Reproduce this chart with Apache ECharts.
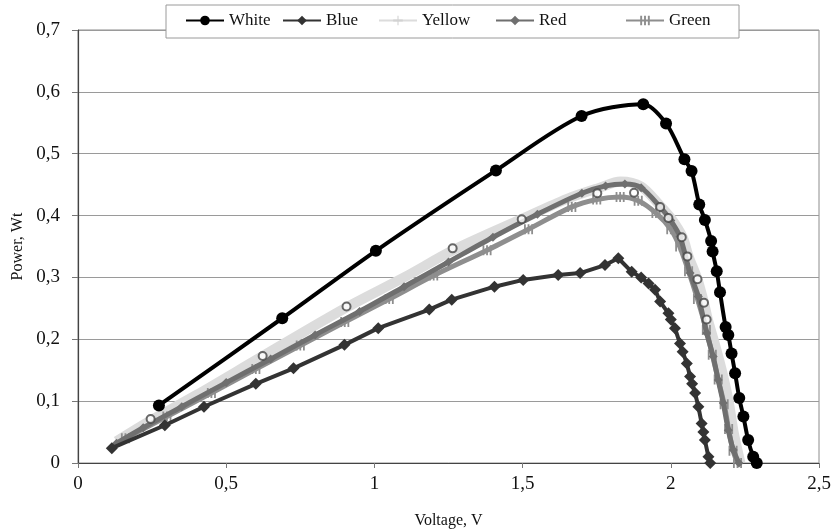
<!DOCTYPE html>
<html lang="en">
  <head>
    <meta charset="UTF-8" />
    <title>Power vs Voltage</title>
    <script src="https://cdn.jsdelivr.net/npm/echarts@6/dist/echarts.min.js"></script>
    <style>
      body { margin: 0; background: #fff; }
      #main { width: 834px; height: 529px; }
    </style>
  </head>
  <body>
    <div id="main"></div>
    <script>
      // series names (legend order)
      const names = ["White", "Blue", "Yellow", "Red", "Green"];

      // [voltage, power]
      const white = [
        [0.273, 0.093], [0.689, 0.234], [1.005, 0.343], [1.41, 0.473], [1.699, 0.561],
        [1.907, 0.58], [1.984, 0.549], [2.046, 0.491], [2.07, 0.472], [2.096, 0.418],
        [2.115, 0.393], [2.136, 0.359], [2.141, 0.342], [2.155, 0.31], [2.166, 0.276],
        [2.185, 0.22], [2.194, 0.207], [2.205, 0.177], [2.217, 0.145], [2.231, 0.105],
        [2.245, 0.075], [2.261, 0.037], [2.278, 0.01], [2.29, 0]
      ];
      const blue = [
        [0.114, 0.024], [0.293, 0.061], [0.425, 0.091], [0.6, 0.128], [0.727, 0.153],
        [0.899, 0.191], [1.013, 0.218], [1.185, 0.248], [1.261, 0.264], [1.405, 0.285],
        [1.502, 0.296], [1.62, 0.304], [1.694, 0.307], [1.778, 0.32], [1.823, 0.331],
        [1.868, 0.309], [1.9, 0.3], [1.925, 0.29], [1.947, 0.28], [1.964, 0.261],
        [1.992, 0.242], [2.0, 0.232], [2.014, 0.218], [2.031, 0.193], [2.04, 0.18],
        [2.054, 0.161], [2.065, 0.14], [2.072, 0.128], [2.082, 0.113], [2.093, 0.091],
        [2.104, 0.064], [2.11, 0.05], [2.115, 0.037], [2.127, 0.01], [2.133, 0]
      ];
      const yellow = [
        [0.13, 0.035], [0.25, 0.07], [0.4, 0.11], [0.62, 0.172], [0.9, 0.25],
        [1.1, 0.3], [1.27, 0.345], [1.5, 0.395], [1.65, 0.427], [1.76, 0.445],
        [1.83, 0.455], [1.9, 0.447], [1.96, 0.418], [2.0, 0.396], [2.04, 0.365],
        [2.06, 0.334], [2.09, 0.297], [2.112, 0.259], [2.125, 0.232], [2.15, 0.19],
        [2.172, 0.15], [2.195, 0.1], [2.212, 0.05], [2.235, 0]
      ];
      const red = [
        [0.13, 0.032], [0.22, 0.057], [0.35, 0.091], [0.5, 0.13], [0.65, 0.168],
        [0.8, 0.207], [0.95, 0.245], [1.1, 0.285], [1.25, 0.325], [1.4, 0.365],
        [1.55, 0.402], [1.7, 0.436], [1.78, 0.448], [1.845, 0.451], [1.9, 0.445],
        [1.964, 0.414], [2.0, 0.392], [2.031, 0.366], [2.065, 0.307], [2.093, 0.269],
        [2.121, 0.21], [2.143, 0.172], [2.16, 0.134], [2.177, 0.097], [2.194, 0.053],
        [2.211, 0.021], [2.23, 0]
      ];
      const green = [
        [0.16, 0.04], [0.3, 0.075], [0.45, 0.113], [0.6, 0.152], [0.75, 0.19],
        [0.9, 0.228], [1.05, 0.265], [1.2, 0.303], [1.38, 0.344], [1.52, 0.378],
        [1.666, 0.414], [1.75, 0.426], [1.829, 0.43], [1.89, 0.424], [1.95, 0.404],
        [2.0, 0.378], [2.03, 0.35], [2.06, 0.31], [2.09, 0.265], [2.12, 0.215],
        [2.14, 0.175], [2.16, 0.135], [2.18, 0.095], [2.195, 0.055], [2.21, 0.02],
        [2.225, 0]
      ];
      // open circles drawn along the yellow curve
      const yellowPts = [
        [0.245, 0.071], [0.623, 0.173], [0.906, 0.253], [1.264, 0.347], [1.497, 0.394],
        [1.752, 0.436], [1.876, 0.437], [1.964, 0.414], [1.992, 0.396], [2.037, 0.365],
        [2.056, 0.334], [2.09, 0.297], [2.112, 0.259], [2.121, 0.232]
      ];

      const xTicks = { min: 0, max: 2.5, step: 0.5 };
      const yTicks = { min: 0, max: 0.7, step: 0.1 };

      const serif = "Liberation Serif";
      const comma = v => String(+v.toFixed(2)).replace(".", ",");

      // legend item left positions (px)
      const legendLeft = [185, 282, 378, 495, 625];

      const chart = echarts.init(document.getElementById("main"));

      chart.setOption({
        backgroundColor: "#fff",
        animation: false,
        textStyle: { fontFamily: serif },
        grid: {
          left: 78, right: 15, top: 30, bottom: 66,
          outerBoundsMode: "none",
          show: true, borderColor: "#8c8c8c", borderWidth: 1
        },
        graphic: [{
          type: "rect", z: 50,
          shape: { x: 166, y: 5, width: 573, height: 33 },
          style: { fill: "#fff", stroke: "#9a9a9a", lineWidth: 1 }
        }],
        legend: names.map((n, i) => ({
          data: [n], left: legendLeft[i], top: 12, padding: 0, z: 60,
          itemWidth: 38, itemHeight: 12, itemGap: 5,
          textStyle: { fontFamily: serif, fontSize: 17, color: "#111" }
        })),
        xAxis: {
          type: "value", min: xTicks.min, max: xTicks.max, interval: xTicks.step,
          name: "Voltage, V", nameLocation: "middle", nameGap: 50,
          nameTextStyle: { fontFamily: serif, fontSize: 16, color: "#111" },
          axisLine: { lineStyle: { color: "#444", width: 1.2 } },
          axisTick: { show: true, length: 5, lineStyle: { color: "#777" } },
          axisLabel: { formatter: comma, fontFamily: serif, fontSize: 19, color: "#111", margin: 12 },
          splitLine: { show: false }
        },
        yAxis: {
          type: "value", min: yTicks.min, max: yTicks.max, interval: yTicks.step,
          name: "Power, Wt", nameLocation: "middle", nameGap: 40, nameRotate: 90,
          nameTextStyle: { fontFamily: serif, fontSize: 16, color: "#111" },
          axisLine: { show: true, lineStyle: { color: "#444", width: 1.2 } },
          axisTick: { show: true, length: 6, lineStyle: { color: "#777" } },
          axisLabel: { formatter: comma, fontFamily: serif, fontSize: 19, color: "#111", margin: 18 },
          splitLine: { show: true, lineStyle: { color: "#9a9a9a", width: 1.2 } }
        },
        series: [
          {
            name: "Yellow", type: "line", data: yellow, smooth: 0.3, z: 2,
            symbol: "path://M0,4L8,4L8,0L10,0L10,4L18,4L18,6L10,6L10,10L8,10L8,6L0,6Z",
            symbolSize: 12, showSymbol: false,
            lineStyle: { color: "#dcdcdc", width: 10 }, itemStyle: { color: "#d2d2d2" }
          },
          {
            name: "Green", type: "line", data: green, smooth: 0.3, z: 3,
            symbol: "path://M0,0L2,0L2,10L0,10Z M4,0L6,0L6,10L4,10Z M8,0L10,0L10,10L8,10Z",
            symbolSize: [9, 10],
            lineStyle: { color: "#8e8e8e", width: 5 }, itemStyle: { color: "#8e8e8e" }
          },
          {
            name: "Red", type: "line", data: red, smooth: 0.3, z: 4,
            symbol: "diamond", symbolSize: 9,
            lineStyle: { color: "#6f6f6f", width: 5 }, itemStyle: { color: "#6f6f6f" }
          },
          {
            name: "yellowPts", type: "scatter", data: yellowPts, z: 5,
            symbol: "emptyCircle", symbolSize: 8,
            itemStyle: { color: "#444", borderWidth: 1 }
          },
          {
            name: "Blue", type: "line", data: blue, z: 6,
            symbol: "diamond", symbolSize: 12,
            lineStyle: { color: "#333", width: 4 }, itemStyle: { color: "#333" }
          },
          {
            name: "White", type: "line", data: white, smooth: 0.3, z: 7,
            symbol: "circle", symbolSize: 12,
            lineStyle: { color: "#000", width: 4 }, itemStyle: { color: "#000" }
          }
        ]
      });
    </script>
  </body>
</html>
